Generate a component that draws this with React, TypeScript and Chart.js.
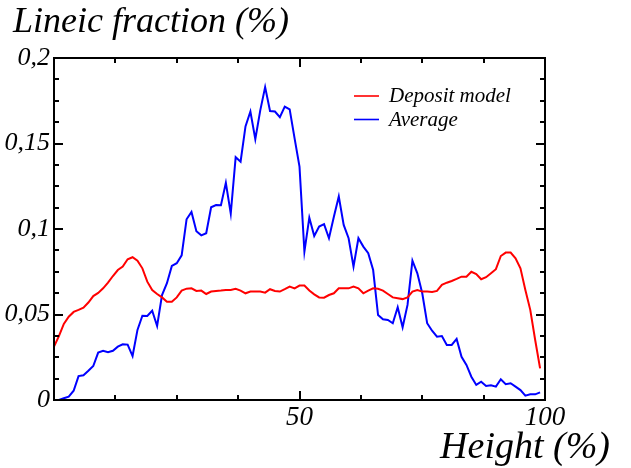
import React, { useEffect, useRef } from "react";
import { Chart, registerables } from "chart.js";

Chart.register(...registerables);

const heights = [
  0, 1, 2, 3, 4, 5, 6, 7, 8, 9, 10, 11, 12, 13, 14, 15, 16, 17, 18, 19,
  20, 21, 22, 23, 24, 25, 26, 27, 28, 29, 30, 31, 32, 33, 34, 35, 36, 37, 38, 39,
  40, 41, 42, 43, 44, 45, 46, 47, 48, 49, 50, 51, 52, 53, 54, 55, 56, 57, 58, 59,
  60, 61, 62, 63, 64, 65, 66, 67, 68, 69, 70, 71, 72, 73, 74, 75, 76, 77, 78, 79,
  80, 81, 82, 83, 84, 85, 86, 87, 88, 89, 90, 91, 92, 93, 94, 95, 96, 97, 98, 99,
];

const depositModel = [
  0.0312, 0.0374, 0.0445, 0.0487, 0.0515, 0.0527, 0.054, 0.057, 0.0608, 0.0626,
  0.0653, 0.0686, 0.0725, 0.076, 0.078, 0.0823, 0.0835, 0.0815, 0.077, 0.0692,
  0.0643, 0.062, 0.06, 0.0575, 0.0575, 0.06, 0.064, 0.0651, 0.0653, 0.0638,
  0.064, 0.062, 0.0634, 0.0638, 0.064, 0.0643, 0.0643, 0.065, 0.064, 0.0624,
  0.0634, 0.0634, 0.0634, 0.0628, 0.0648, 0.0638, 0.0634, 0.0648, 0.0663, 0.0653,
  0.0669, 0.0669, 0.064, 0.0618, 0.06, 0.0598, 0.0614, 0.0624, 0.0653, 0.0653,
  0.0653, 0.0663, 0.0653, 0.0624, 0.064, 0.0653, 0.065, 0.064, 0.062, 0.06,
  0.0595, 0.059, 0.06, 0.0634, 0.0643, 0.0634, 0.0634, 0.0632, 0.0638, 0.0673,
  0.0686, 0.0696, 0.0708, 0.0721, 0.0721, 0.075, 0.0737, 0.0706, 0.0718, 0.0741,
  0.0765, 0.0842, 0.0862, 0.0862, 0.0829, 0.077, 0.0643, 0.0527, 0.0351, 0.0185,
];

const average = [
  0.0, 0.0, 0.001, 0.002, 0.0054, 0.014, 0.0145, 0.0171, 0.0199, 0.0277,
  0.0288, 0.0279, 0.0288, 0.0312, 0.0326, 0.0324, 0.0257, 0.041, 0.0493, 0.0491,
  0.0522, 0.0433, 0.0614, 0.0683, 0.0784, 0.08, 0.0846, 0.1057, 0.11, 0.0987,
  0.0963, 0.0975, 0.1127, 0.114, 0.1139, 0.127, 0.109, 0.142, 0.1394, 0.16,
  0.1687, 0.1525, 0.1692, 0.183, 0.169, 0.1687, 0.1654, 0.1716, 0.17, 0.153,
  0.1365, 0.0868, 0.1066, 0.0959, 0.1014, 0.1028, 0.0946, 0.1072, 0.119, 0.1024,
  0.0946, 0.078, 0.0946, 0.0897, 0.0858, 0.076, 0.0497, 0.0472, 0.0468, 0.0449,
  0.0542, 0.0425, 0.0556, 0.0815, 0.0741, 0.0624, 0.0449, 0.0405, 0.037, 0.0374,
  0.0322, 0.0322, 0.0357, 0.0253, 0.0205, 0.0136, 0.0088, 0.0107, 0.0082, 0.0086,
  0.0078, 0.0121, 0.0092, 0.0098, 0.0078, 0.0058, 0.0025, 0.0033, 0.0033, 0.0045,
];

const xTickMarks = [0, 12.5, 25, 37.5, 50, 62.5, 75, 87.5, 100];
const xMajorTicks = [0, 50, 100];
const yTickMarks = [
  0, 0.0125, 0.025, 0.0375, 0.05, 0.0625, 0.075, 0.0875, 0.1, 0.1125, 0.125,
  0.1375, 0.15, 0.1625, 0.175, 0.1875, 0.2,
];
const yMajorTicks = [0, 0.05, 0.1, 0.15, 0.2];

const seriesNames = ["Deposit model", "Average"];
const seriesColors = ["#ff0000", "#0000ff"];
const yTitle = "Lineic fraction (%)";
const xTitle = "Height (%)";

const FONT = '"Liberation Serif", "Times New Roman", serif';

const decorPlugin = {
  id: "decor",
  afterDraw(chart: any) {
    const { ctx, chartArea, scales } = chart;
    const { left, right, top, bottom } = chartArea;
    const xs = scales.x;
    const ys = scales.y;
    ctx.save();
    ctx.strokeStyle = "#000";
    ctx.lineWidth = 2;
    ctx.lineCap = "butt";
    ctx.beginPath();
    for (const v of xTickMarks) {
      const px = Math.round(xs.getPixelForValue(v));
      const len = xMajorTicks.includes(v) ? 9 : 5;
      ctx.moveTo(px, bottom);
      ctx.lineTo(px, bottom - len);
      ctx.moveTo(px, top);
      ctx.lineTo(px, top + len);
    }
    for (const v of yTickMarks) {
      const py = Math.round(ys.getPixelForValue(v));
      const len = yMajorTicks.includes(v) ? 9 : 5;
      ctx.moveTo(left, py);
      ctx.lineTo(left + len, py);
      ctx.moveTo(right, py);
      ctx.lineTo(right - len, py);
    }
    ctx.stroke();
    ctx.strokeRect(left, top, right - left, bottom - top);

    // titles
    ctx.fillStyle = "#000";
    ctx.textBaseline = "alphabetic";
    ctx.textAlign = "left";
    ctx.font = `italic 36px ${FONT}`;
    ctx.fillText(yTitle, 13, 32);
    ctx.font = `italic 38px ${FONT}`;
    ctx.textAlign = "right";
    ctx.fillText(xTitle, 610, 458);

    // legend
    ctx.font = `italic 21px ${FONT}`;
    ctx.textAlign = "left";
    ctx.textBaseline = "alphabetic";
    const legendY = [96, 119.5];
    seriesNames.forEach((name, i) => {
      ctx.strokeStyle = seriesColors[i];
      ctx.lineWidth = 1.6;
      ctx.beginPath();
      ctx.moveTo(354, legendY[i]);
      ctx.lineTo(379, legendY[i]);
      ctx.stroke();
      ctx.fillStyle = "#000";
      ctx.fillText(name, 389, legendY[i] + 6);
    });
    ctx.restore();
  },
};

export default function App() {
  const canvasRef = useRef<HTMLCanvasElement | null>(null);

  useEffect(() => {
    const canvas = canvasRef.current;
    if (!canvas) return;
    const chart = new Chart(canvas, {
      type: "line",
      data: {
        datasets: [
          {
            label: seriesNames[0],
            data: heights.map((h, i) => ({ x: h, y: depositModel[i] })),
            borderColor: seriesColors[0],
            borderWidth: 2,
            pointRadius: 0,
            tension: 0,
            fill: false,
          },
          {
            label: seriesNames[1],
            data: heights.map((h, i) => ({ x: h, y: average[i] })),
            borderColor: seriesColors[1],
            borderWidth: 2,
            pointRadius: 0,
            tension: 0,
            fill: false,
          },
        ],
      },
      options: {
        responsive: false,
        maintainAspectRatio: false,
        animation: false,
        layout: { padding: { left: 0, right: 86, top: 58, bottom: 0 } },
        plugins: {
          legend: { display: false },
          tooltip: { enabled: false },
        },
        scales: {
          x: {
            type: "linear",
            min: 0,
            max: 100,
            grid: { display: false, drawTicks: false },
            border: { display: false },
            ticks: {
              stepSize: 50,
              color: "#000",
              padding: 2,
              maxRotation: 0,
              font: { family: FONT, style: "italic", size: 27 },
              callback: (v: any) => (v === 0 ? "" : String(v)),
            },
            afterFit: (s: any) => {
              s.height = 68;
            },
          },
          y: {
            type: "linear",
            min: 0,
            max: 0.2,
            grid: { display: false, drawTicks: false },
            border: { display: false },
            ticks: {
              stepSize: 0.05,
              color: "#000",
              padding: 4,
              font: { family: FONT, style: "italic", size: 26 },
              callback: (v: any) =>
                v === 0 ? "0" : String(Math.round(v * 100) / 100).replace(".", ","),
            },
            afterFit: (s: any) => {
              s.width = 54;
            },
          },
        },
      },
      plugins: [decorPlugin],
    });
    return () => chart.destroy();
  }, []);

  return (
    <div style={{ position: "fixed", left: 0, top: 0, width: 631, height: 468, background: "#fff" }}>
      <canvas ref={canvasRef} width={631} height={468} style={{ display: "block" }} />
    </div>
  );
}
